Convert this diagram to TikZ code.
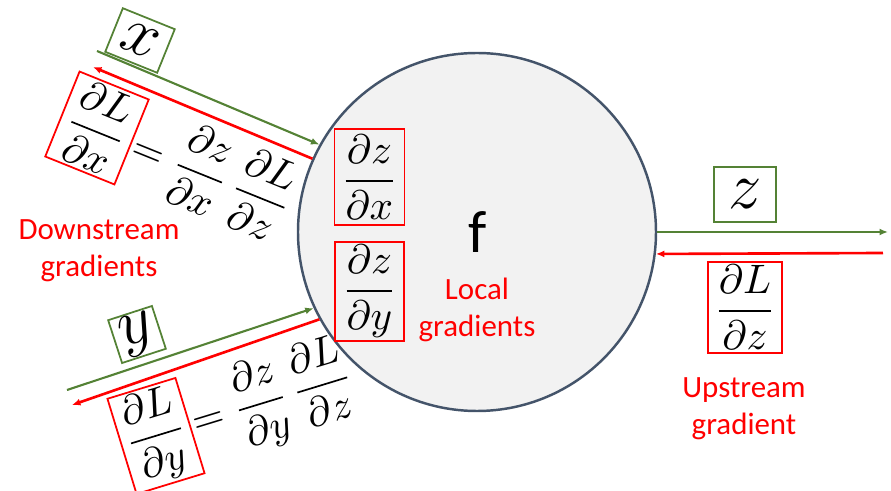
\documentclass[tikz,border=0pt]{standalone}
\usepackage{fix-cm}
\usepackage{amsmath}
\usepackage{fontspec}
\newfontfamily\calibri{Carlito}
\usetikzlibrary{positioning,arrows.meta}
\definecolor{ggreen}{RGB}{84,130,53}
\definecolor{nodegray}{RGB}{242,242,242}
\definecolor{slate}{RGB}{68,84,106}
\newcommand{\fracsize}{\fontsize{11.7}{14}\selectfont}
\begin{document}
\begin{tikzpicture}[line width=0.6pt,
  gline/.style={ggreen, line width=0.6pt, -{Latex[length=2.4pt,width=2pt]}},
  rline/.style={red, line width=0.75pt, -{Latex[length=2.4pt,width=2pt]}},
  gbox/.style={draw=ggreen, line width=0.5pt, inner sep=0pt, font=\fontsize{19}{22}\selectfont},
  rbox/.style={draw=red, line width=0.5pt, inner xsep=2pt, inner ysep=1pt, font=\fracsize},
  eqn/.style={inner xsep=0.5pt, inner ysep=0pt, font=\fracsize},
  note/.style={red, align=center, font=\calibri\fontsize{8.8}{10.5}\selectfont}]
  \useasboundingbox (0,0) rectangle (8.91,-4.91);
  % the node f
  \node[circle, draw=slate, fill=nodegray, line width=0.7pt, minimum size=3.58cm] (f) at (4.770,-2.320) {};
  \node[font=\calibri\fontsize{17}{20}\selectfont] (flabel) at (4.780,-2.320) {f};
  \node[rbox, minimum height=0.96cm] (dzdx) at (3.695,-1.770) {$\dfrac{\partial z}{\partial x}$};
  \node[rbox, minimum height=0.96cm] (dzdy) at (3.695,-2.915) {$\dfrac{\partial z}{\partial y}$};
  \node[note] (local) at (4.770,-3.095) {Local\\gradients};
  % output side
  \node[gbox, minimum width=0.62cm, minimum height=0.55cm] (zval) at (7.450,-1.945) {$z$};
  \node[rbox] (dLdz) at (7.450,-3.075) {$\dfrac{\partial L}{\partial z}$};
  \node[note] (upstream) at (7.440,-4.085) {Upstream\\gradient};
  % input x
  \node[gbox, rotate=-22, minimum width=0.56cm, minimum height=0.47cm] (xval) at (1.400,-0.405) {$x$};
  \node[rbox, rotate=-22] (dLdx) at (0.970,-1.280) {$\dfrac{\partial L}{\partial x}$};
  \node[eqn, rotate=-22, right=0pt of dLdx] (eqx) {$=\dfrac{\partial z}{\partial x}\,\dfrac{\partial L}{\partial z}$};
  \node[note] (downstream) at (0.990,-2.510) {Downstream\\gradients};
  % input y
  \node[gbox, rotate=18, minimum width=0.46cm, minimum height=0.45cm] (yval) at (1.370,-3.345) {$y$};
  \node[rbox, rotate=17, inner xsep=1.5pt] (dLdy) at (1.560,-4.360) {$\dfrac{\partial L}{\partial y}$};
  \node[eqn, rotate=17, right=0pt of dLdy] (eqy) {$=\dfrac{\partial z}{\partial y}\,\dfrac{\partial L}{\partial z}$};
  % free ends of the wires
  \coordinate (xin) at (0.970,-0.510);
  \coordinate (xback) at (0.930,-0.670);
  \coordinate (yin) at (0.670,-3.900);
  \coordinate (yback) at (0.720,-4.050);
  \coordinate (zout) at (8.880,-2.320);
  \coordinate (zback) at (8.830,-2.530);
  \draw[gline] (xin) -- (f.151);
  \draw[rline] (f.156) -- (xback);
  \draw[gline] (yin) -- (f.205);
  \draw[rline] (f.209) -- (yback);
  \draw[gline] (f.0) -- (zout);
  \draw[rline] (zback) -- (f.-7);
\end{tikzpicture}
\end{document}
